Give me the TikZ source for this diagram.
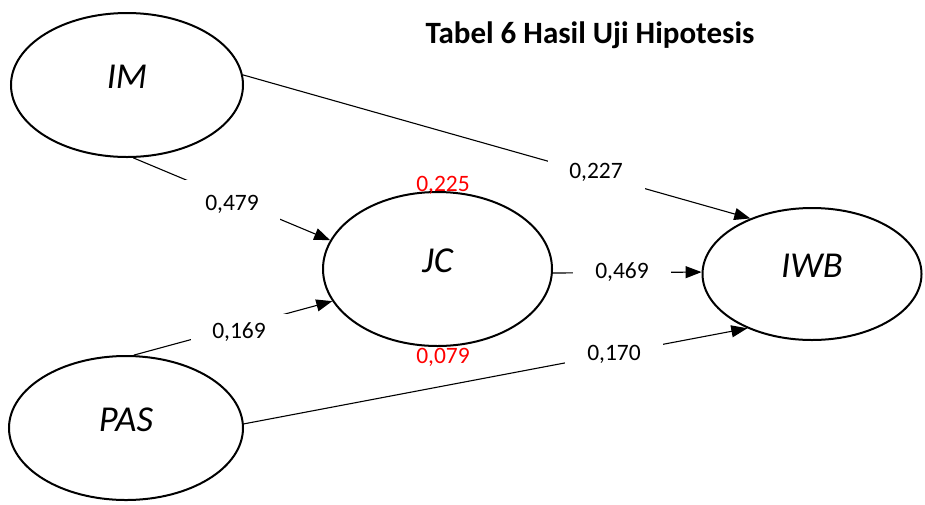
\documentclass[tikz,border=0pt]{standalone}
\usepackage{fontspec}
\setmainfont{Carlito}
\usetikzlibrary{shapes.geometric,arrows.meta}

\begin{document}
\begin{tikzpicture}
[x=1pt,y=-1pt,
  latentDecorate/.style={shape=ellipse,draw,line width=2pt,inner sep=0pt,%
    font=\fontsize{36.5}{44}\selectfont\itshape,text height=24pt,text depth=18pt},%
  pathDecorate/.style={line width=1.1pt,-{Triangle[length=16pt,width=12pt]}},%
  valueDecorate/.style={fill=white,inner sep=0pt,font=\fontsize{23.5}{28}\selectfont},%
  rsqDecorate/.style={text=red,inner sep=0pt,font=\fontsize{23.5}{28}\selectfont}]
\useasboundingbox (0,0) rectangle (925,504);
%%
%% title
\node (title) at (590,43) [anchor=base,font=\fontsize{31}{37}\selectfont\bfseries]
  {Tabel 6 Hasil Uji Hipotesis};
%%
%% constructs
\foreach \nodename/\x/\y/\w/\h in {
  IM/127/85/232/144, JC/437.5/269/229/154,
  IWB/812/274/219/132, PAS/126/428/234/144}
{
  \node (\nodename) at (\x,\y) [latentDecorate,minimum width=\w pt,minimum height=\h pt] {\nodename};
}
%% paths
\path
\foreach \startnode/\endnode in {
  IM.275/JC.165, IM.5/IWB.138, JC.358/IWB.179, PAS.84/JC.197, PAS.2/IWB.220}
{
  (\startnode) edge[pathDecorate] (\endnode)
};
%% path coefficients
\foreach \nodename/\x/\y/\w/\h/\val in {
  v479/232/204/95/48/{0,479}, v227/596/172/97/36/{0,227},
  v469/622/272/98/30/{0,469}, v169/239/332/97/36/{0,169},
  v170/614/354/98/32/{0,170}}
{
  \node (\nodename) at (\x,\y) [valueDecorate,minimum width=\w pt,minimum height=\h pt] {\val};
}
%% r-square
\node (r225) at (443,185) [rsqDecorate] {0,225};
\node (r079) at (443,357) [rsqDecorate] {0,079};
\end{tikzpicture}
\end{document}
